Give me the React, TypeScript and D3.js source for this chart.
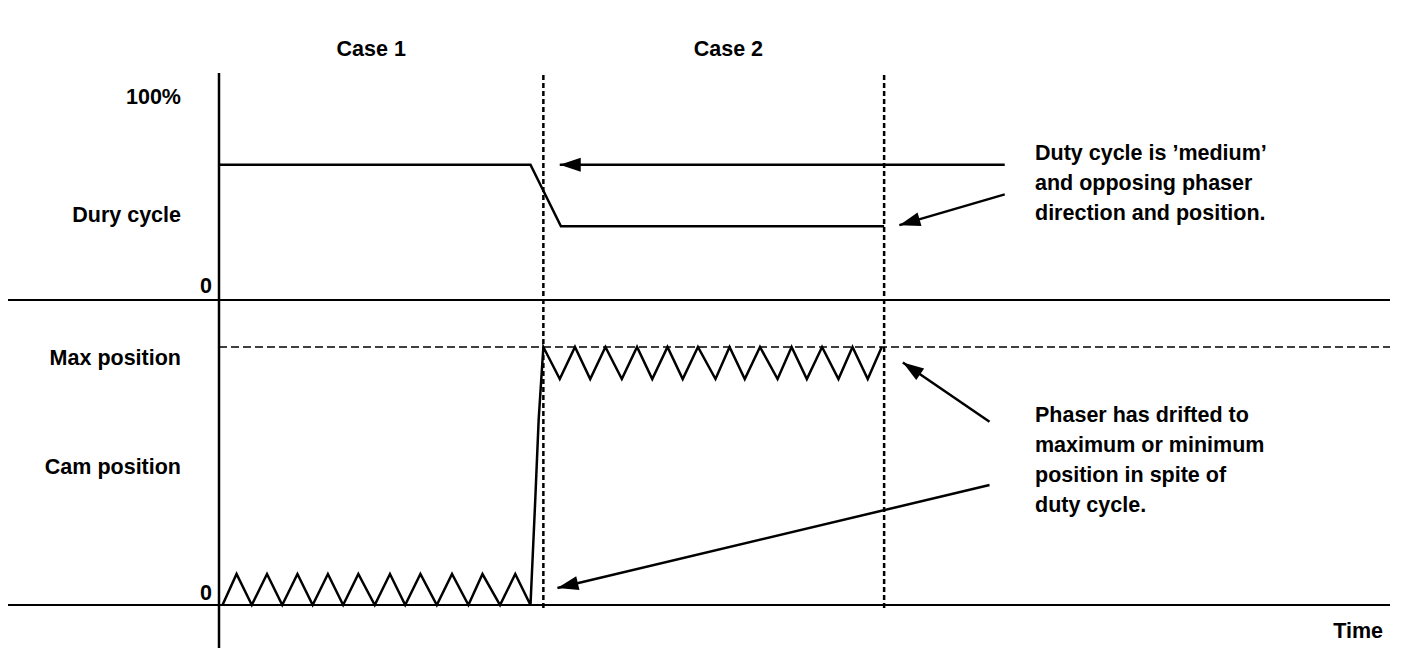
import React from "react";
import * as d3 from "d3";

// time runs 0..100 across the plot, values in percent
const dutyTime = [0, 26.6, 29.2, 56.8];
const dutyValue = [66, 66, 36, 36];

const camTime = [
  0.3, 1.5, 2.8, 4.1, 5.4, 6.7, 8.0, 9.3, 10.6, 11.9, 13.3, 14.6, 15.9, 17.2, 18.6, 19.9, 21.3, 22.5, 24.0, 25.3, 26.6,
  27.0, 27.3, 27.7,
  29.1, 30.4, 31.7, 33.0, 34.4, 35.7, 37.0, 38.3, 39.6, 40.9, 42.4, 43.6, 44.9, 46.2, 47.7, 48.9, 50.2, 51.5, 52.9, 54.1, 55.4, 56.6,
];
const camValue = [
  0, 12, 0, 12, 0, 12, 0, 12, 0, 12, 0, 12, 0, 12, 0, 12, 0, 12, 0, 12, 0,
  40, 72, 100,
  87.6, 100, 87.6, 100, 87.6, 100, 87.6, 100, 87.6, 100, 87.6, 100, 87.6, 100, 87.6, 100, 87.6, 100, 87.6, 100, 87.6, 100,
];

const caseBounds = [27.7, 56.8];
const caseLabels = ["Case 1", "Case 2"];
const caseLabelTime = [13, 43.5];
const maxPosition = 100;

const dutyNote = ["Duty cycle is \u2019medium\u2019", "and opposing phaser", "direction and position."];
const camNote = ["Phaser has drifted to", "maximum or minimum", "position in spite of", "duty cycle."];

// annotation arrows: [panel, fromT, fromV, toT, toV]
const arrows: [string, number, number, number, number][] = [
  ["duty", 67.1, 66, 29.1, 66],
  ["duty", 67.1, 51.5, 58.1, 36.5],
  ["cam", 65.8, 71, 58.4, 94],
  ["cam", 65.8, 46.5, 28.9, 6.6],
];

const W = 1408;
const H = 650;
const font = "'Liberation Sans', Arial, sans-serif";

export default function App() {
  const x = d3.scaleLinear().domain([0, 100]).range([219, 1390]);
  const yDuty = d3.scaleLinear().domain([0, 100]).range([300, 95]);
  const yCam = d3.scaleLinear().domain([0, 100]).range([605, 347]);

  const dutyLine = d3
    .line<number>()
    .x((d, i) => x(dutyTime[i]))
    .y((d) => yDuty(d));
  const camLine = d3
    .line<number>()
    .x((d, i) => x(camTime[i]))
    .y((d) => yCam(d));

  const arrowHead = (x1: number, y1: number, x2: number, y2: number) => {
    const a = Math.atan2(y2 - y1, x2 - x1);
    const len = 21;
    const half = 7;
    const bx = x2 - len * Math.cos(a);
    const by = y2 - len * Math.sin(a);
    const px = -Math.sin(a) * half;
    const py = Math.cos(a) * half;
    return `M${x2},${y2}L${bx + px},${by + py}L${bx - px},${by - py}Z`;
  };

  const label = { fontFamily: font, fontSize: 21.5, fontWeight: 700, fill: "#000" } as const;

  return (
    <svg width={W} height={H} style={{ position: "absolute", left: 0, top: 0, background: "#fff" }}>
      {/* case labels */}
      {caseLabels.map((c, i) => (
        <text key={c} x={x(caseLabelTime[i])} y={56} textAnchor="middle" {...label}>
          {c}
        </text>
      ))}

      {/* axes */}
      <line x1={219} x2={219} y1={73} y2={648} stroke="#000" strokeWidth={2.5} />
      <line x1={8} x2={1390} y1={yDuty(0)} y2={yDuty(0)} stroke="#000" strokeWidth={2} />
      <line x1={8} x2={1390} y1={yCam(0)} y2={yCam(0)} stroke="#000" strokeWidth={2} />
      <line
        x1={x(0)}
        x2={1390}
        y1={yCam(maxPosition)}
        y2={yCam(maxPosition)}
        stroke="#000"
        strokeWidth={1.5}
        strokeDasharray="8 4"
      />
      {caseBounds.map((t) => (
        <line
          key={t}
          x1={x(t)}
          x2={x(t)}
          y1={75}
          y2={608}
          stroke="#000"
          strokeWidth={2.5}
          strokeDasharray="5 3"
        />
      ))}

      {/* y labels */}
      <text x={181} y={104} textAnchor="end" {...label}>100%</text>
      <text x={181} y={222} textAnchor="end" {...label}>Dury cycle</text>
      <text x={212} y={293} textAnchor="end" {...label}>0</text>
      <text x={181} y={365} textAnchor="end" {...label}>Max position</text>
      <text x={181} y={474} textAnchor="end" {...label}>Cam position</text>
      <text x={212} y={600} textAnchor="end" {...label}>0</text>
      <text x={1383} y={638} textAnchor="end" {...label}>Time</text>

      {/* series */}
      <path d={dutyLine(dutyValue) ?? ""} fill="none" stroke="#000" strokeWidth={2.5} />
      <path d={camLine(camValue) ?? ""} fill="none" stroke="#000" strokeWidth={2.5} strokeLinejoin="miter" />

      {/* annotation arrows */}
      {arrows.map(([panel, t1, v1, t2, v2], i) => {
        const y = panel === "duty" ? yDuty : yCam;
        const x1 = x(t1), y1 = y(v1), x2 = x(t2), y2 = y(v2);
        return (
          <g key={i}>
            <line x1={x1} y1={y1} x2={x2} y2={y2} stroke="#000" strokeWidth={2.5} />
            <path d={arrowHead(x1, y1, x2, y2)} fill="#000" />
          </g>
        );
      })}

      {/* notes */}
      {dutyNote.map((s, i) => (
        <text key={s} x={1035} y={160 + i * 30} {...label}>{s}</text>
      ))}
      {camNote.map((s, i) => (
        <text key={s} x={1035} y={422 + i * 30} {...label}>{s}</text>
      ))}
    </svg>
  );
}
